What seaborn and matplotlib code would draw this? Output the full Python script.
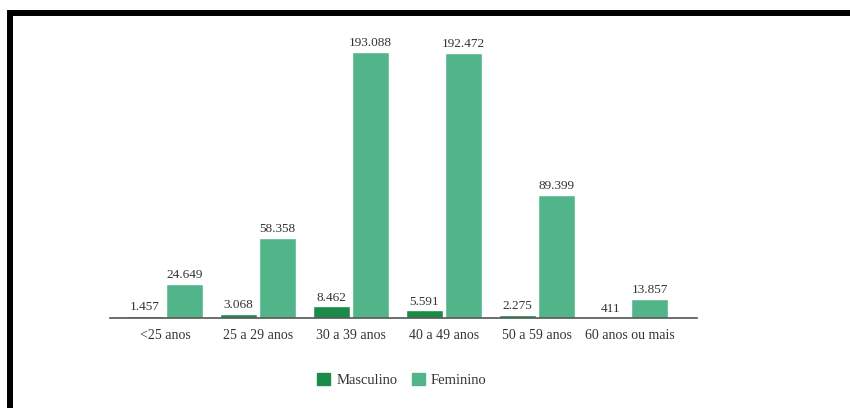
import numpy as np
import pandas as pd
import matplotlib
matplotlib.use("Agg")
import matplotlib.pyplot as plt
import seaborn as sns
from matplotlib.patches import Rectangle

# dados
faixas = ['<25 anos', '25 a 29 anos', '30 a 39 anos', '40 a 49 anos',
          '50 a 59 anos', '60 anos ou mais']
masculino = [1457, 3068, 8462, 5591, 2275, 411]
feminino = [24649, 58358, 193088, 192472, 89399, 13857]
sexos = ['Masculino', 'Feminino']
cores = ['#1a8c48', '#52b58a']


def fmt(v):
    return f"{v:,.0f}".replace(",", ".")


def main():
    df = pd.DataFrame({
        'faixa': faixas * 2,
        'valor': masculino + feminino,
        'sexo': [sexos[0]] * len(faixas) + [sexos[1]] * len(faixas),
    })

    sns.set_style('white')
    plt.rcParams['font.family'] = ['Liberation Serif', 'DejaVu Serif']

    fig = plt.figure(figsize=(8.5, 4.08), dpi=100)
    ax = fig.add_axes([110 / 850, 1 - 318 / 408, 587 / 850, 278 / 408])

    sns.barplot(data=df, x='faixa', y='valor', hue='sexo', palette=cores,
                width=0.85, gap=0.06, saturation=1, ax=ax, legend=False)

    for cont in ax.containers:
        ax.bar_label(cont, labels=[fmt(b.get_height()) for b in cont],
                     padding=2, fontsize=9.5, color='#333333')

    ax.set_xlim(-0.59, 5.72)
    ax.set_ylim(0, 202000)
    ax.set_xlabel('')
    ax.set_ylabel('')
    ax.set_yticks([])
    ax.tick_params(axis='x', length=0, pad=8, labelsize=10, labelcolor='#333333')
    sns.despine(ax=ax, left=True)
    ax.spines['bottom'].set_color('#555555')
    ax.spines['bottom'].set_linewidth(1.2)

    handles = [Rectangle((0, 0), 1, 1, color=c) for c in cores]
    fig.legend(handles, sexos, loc='center', bbox_to_anchor=(402 / 850, 1 - 380 / 408),
               ncol=2, frameon=False, fontsize=10.5, handlelength=0.9,
               handleheight=0.9, handletextpad=0.4, columnspacing=1.0,
               labelcolor='#333333')

    # moldura preta (cortada a direita e embaixo)
    fig.add_artist(Rectangle((10 / 850, -0.5), 2, 1 - 13 / 408 + 0.5,
                             transform=fig.transFigure, fill=False,
                             edgecolor='black', lw=4.3, clip_on=False))

    fig.savefig('out.png', dpi=100)


if __name__ == '__main__':
    main()
